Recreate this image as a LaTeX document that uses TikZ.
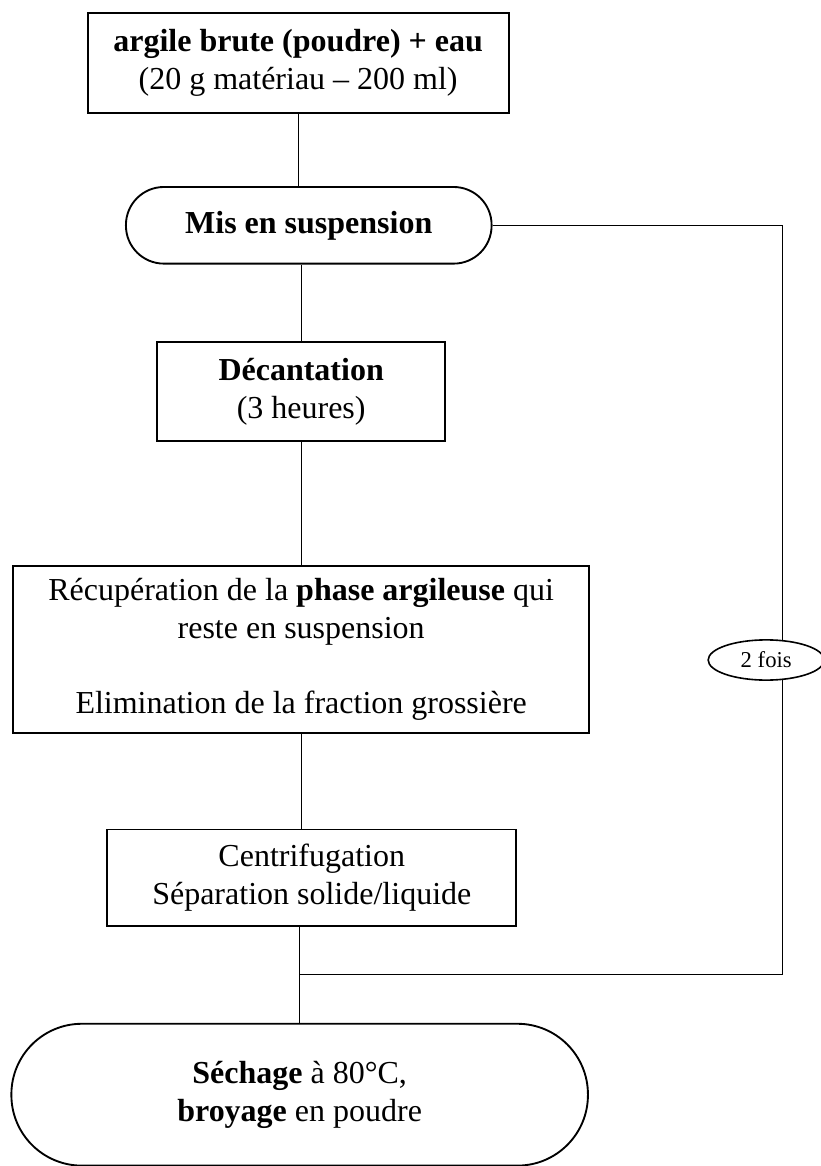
\documentclass[tikz,border=0pt]{standalone}
\usepackage{fontspec}
\setmainfont{Liberation Serif}
\usepackage{tikz}
\usetikzlibrary{positioning,calc,shapes.geometric}
\tikzset{
  box/.style={draw,line width=0.7pt,align=center,inner sep=2pt,font=\fontsize{12}{14.2}\selectfont},
  pill/.style={box,rounded corners=#1},
  tag/.style={draw,ellipse,line width=0.6pt,fill=white,inner sep=0pt,font=\fontsize{8.5}{10}\selectfont},
  lnk/.style={draw,line width=0.45pt},
}

\begin{document}
\begin{tikzpicture}[x=1mm,y=1mm]
\useasboundingbox (0,0) rectangle (108.2,-153.7);
\node[box,minimum width=55.5mm,minimum height=13.2mm] (brut) at (39.3,-8.3) {\textbf{argile brute (poudre) + eau}\\(20 g matériau – 200 ml)};
\node[pill=5mm,minimum width=48.2mm,minimum height=10.1mm] (susp) at (40.7,-29.7) {\textbf{Mis en suspension}};
\node[box,minimum width=38mm,minimum height=13mm] (decant) at (39.7,-51.6) {\textbf{Décantation}\\(3 heures)};
\node[box,minimum width=75.9mm,minimum height=22mm] (recup) at (39.7,-85.6) {Récupération de la \textbf{phase argileuse} qui\\reste en suspension\\[14.2pt]Elimination de la fraction grossière};
\node[box,minimum width=53.9mm,minimum height=12.7mm] (centri) at (41.1,-115.7) {Centrifugation\\Séparation solide/liquide};
\node[pill=9.3mm,minimum width=76mm,minimum height=18.7mm] (sech) at (39.5,-144.3) {\textbf{Séchage} à 80°C,\\\textbf{broyage} en poudre};

% liaisons verticales
\draw[lnk] (brut.south) -- (brut.south |- susp.north);
\draw[lnk] (decant.north |- susp.south) -- (decant.north);
\draw[lnk] (decant.south) -- (recup.north);
\draw[lnk] (recup.south) -- (recup.south |- centri.north);
\draw[lnk] (sech.north |- centri.south) -- (sech.north);

% boucle de retour
\coordinate (ret) at (103.1,-128.5);
\coordinate (jonc) at (sech.north |- ret);
\draw[lnk] (susp.east) -| (ret) -- (jonc);
\node[tag,minimum width=15.3mm,minimum height=5.3mm] (fois) at (101,-87) {2 fois};
\end{tikzpicture}
\end{document}
